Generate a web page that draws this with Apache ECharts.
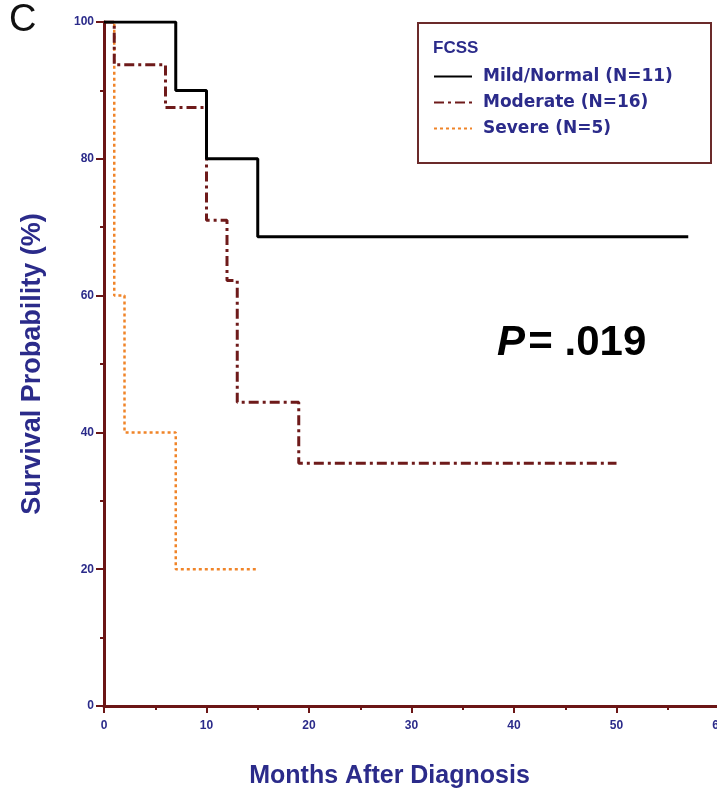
<!DOCTYPE html>
<html>
<head>
<meta charset="utf-8">
<script src="https://cdn.jsdelivr.net/npm/echarts@6/dist/echarts.min.js"></script>
<style>
  html, body { margin: 0; padding: 0; background: #fff; }
  #chart { width: 717px; height: 791px; }
</style>
</head>
<body>
<div id="chart"></div>
<script>
// Kaplan-Meier curves, survival by FCSS group
var mildTimes = [0, 7, 10, 15, 57];
var mildSurv = [100, 90, 80, 68.6, 68.6];
var modTimes = [0, 1, 6, 10, 12, 13, 19, 50];
var modSurv = [100, 93.75, 87.5, 71, 62.2, 44.4, 35.5, 35.5];
var sevTimes = [0, 1, 2, 7, 15];
var sevSurv = [100, 60, 40, 20, 20];
var seriesNames = ['Mild/Normal (N=11)', 'Moderate (N=16)', 'Severe (N=5)'];
var xTicks = [0, 10, 20, 30, 40, 50, 60];
var yTicks = [0, 20, 40, 60, 80, 100];

function pairs(t, s) {
    return t.map(function (v, i) { return [v, s[i]]; });
}

var navy = '#2b2b8a';
var axisRed = '#6b1616';

(function () {
    var myChart = echarts.init(document.getElementById('chart'));
    var option = {
        backgroundColor: '#fff',
        animation: false,
        grid: {
            left: 104,
            top: 22,
            width: 615,
            height: 684,
            outerBoundsMode: 'none'
        },
        xAxis: {
            type: 'value',
            min: xTicks[0],
            max: xTicks[xTicks.length - 1],
            interval: 10,
            name: 'Months After Diagnosis',
            nameLocation: 'middle',
            nameGap: 58,
            nameTextStyle: { color: navy, fontSize: 25, fontWeight: 'bold', fontFamily: 'Liberation Sans', padding: [0, 44, 0, 0] },
            axisLine: { lineStyle: { color: axisRed, width: 3 } },
            axisTick: { show: true, length: 7, lineStyle: { color: axisRed, width: 2 } },
            minorTick: { show: true, splitNumber: 2, length: 4, lineStyle: { color: axisRed, width: 2 } },
            axisLabel: { color: navy, fontSize: 12, fontWeight: 'bold', margin: 14, fontFamily: 'Liberation Sans' },
            splitLine: { show: false }
        },
        yAxis: {
            type: 'value',
            min: yTicks[0],
            max: yTicks[yTicks.length - 1],
            interval: 20,
            name: 'Survival Probability (%)',
            nameLocation: 'middle',
            nameRotate: 90,
            nameGap: 58,
            nameTextStyle: { color: navy, fontSize: 27, fontWeight: 'bold', fontFamily: 'Liberation Sans' },
            axisLine: { lineStyle: { color: axisRed, width: 3 } },
            axisTick: { show: true, length: 8, lineStyle: { color: axisRed, width: 2 } },
            minorTick: { show: true, splitNumber: 2, length: 4, lineStyle: { color: axisRed, width: 2 } },
            axisLabel: { color: navy, fontSize: 12, fontWeight: 'bold', margin: 10, fontFamily: 'Liberation Sans' },
            splitLine: { show: false }
        },
        legend: {
            orient: 'vertical',
            left: 428,
            top: 63,
            itemGap: 9,
            itemWidth: 38,
            itemHeight: 14,
            itemStyle: { opacity: 0 },
            textStyle: { color: navy, fontSize: 17, fontWeight: 'bold', fontFamily: 'DejaVu Sans', padding: [0, 0, 0, 6] },
            data: seriesNames
        },
        graphic: [
            {
                type: 'rect',
                shape: { x: 418, y: 23, width: 293, height: 140 },
                style: { fill: 'none', stroke: '#6b2a2a', lineWidth: 2 }
            },
            {
                type: 'text',
                left: 433, top: 40,
                style: { text: 'FCSS', fill: navy, font: 'bold 17px "Liberation Sans"' }
            },
            {
                type: 'text',
                left: 9, top: 2,
                style: { text: 'C', fill: '#111', font: '38px "Liberation Sans"' }
            },
            {
                type: 'text',
                left: 497, top: 322,
                style: {
                    text: '{p|P} {v|= .019}',
                    rich: {
                        p: { font: 'italic bold 42px "Liberation Sans"', fill: '#000' },
                        v: { font: 'bold 42px "Liberation Sans"', fill: '#000' }
                    }
                }
            }
        ],
        series: [
            {
                name: seriesNames[0],
                type: 'line',
                step: 'end',
                symbol: 'none',
                data: pairs(mildTimes, mildSurv),
                lineStyle: { color: '#000', width: 3 },
                itemStyle: { color: '#000' },
                z: 3
            },
            {
                name: seriesNames[1],
                type: 'line',
                step: 'end',
                symbol: 'none',
                data: pairs(modTimes, modSurv),
                lineStyle: { color: '#6e1a1a', width: 3, type: [10, 4, 3, 4] },
                itemStyle: { color: '#6e1a1a' },
                z: 2
            },
            {
                name: seriesNames[2],
                type: 'line',
                step: 'end',
                symbol: 'none',
                data: pairs(sevTimes, sevSurv),
                lineStyle: { color: '#f08428', width: 2.5, type: [3, 3] },
                itemStyle: { color: '#f08428' },
                z: 1
            }
        ]
    };
    myChart.setOption(option);
    window.addEventListener('resize', function () {
        myChart.resize();
    });
})();
</script>
</body>
</html>
